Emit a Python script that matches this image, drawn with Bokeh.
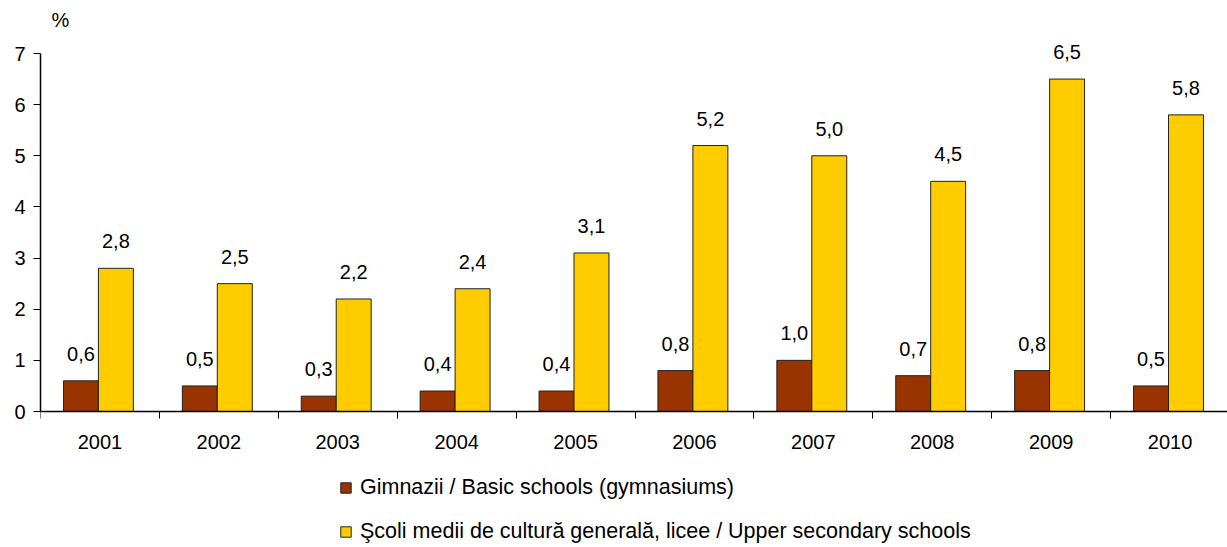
from bokeh.plotting import figure
from bokeh.models import ColumnDataSource, Range1d, FixedTicker, Legend, LegendItem, Label
from bokeh.core.properties import value
from bokeh.embed import file_html
from bokeh.resources import INLINE

years = [2001, 2002, 2003, 2004, 2005, 2006, 2007, 2008, 2009, 2010]
gimnazii = [0.6, 0.5, 0.3, 0.4, 0.4, 0.8, 1.0, 0.7, 0.8, 0.5]
licee = [2.8, 2.5, 2.2, 2.4, 3.1, 5.2, 5.0, 4.5, 6.5, 5.8]
series_names = ["Gimnazii / Basic schools (gymnasiums)",
                "Şcoli medii de cultură generală, licee / Upper secondary schools"]
y_ticks = [0, 1, 2, 3, 4, 5, 6, 7]
unit_label = "%"

FONT = "Liberation Sans"
FS = "20px"
LFS = "21.5px"
BROWN = "#993300"
YELLOW = "#FFCC00"
BW = 0.294

centers = [i + 0.487 for i in range(len(years))]
fmt = lambda v: f"{v:.1f}".replace(".", ",")

src = ColumnDataSource(dict(
    x1=[c - BW / 2 for c in centers],
    x2=[c + BW / 2 for c in centers],
    g=gimnazii, l=licee,
    gl=[fmt(v) for v in gimnazii],
    ll=[fmt(v) for v in licee],
))

# frame: left 40 .. right 1227, top 0 .. bottom 547 ; y=0 at pixel 411, y=7 at pixel 53
H = 547
PX_PER_UNIT = (411 - 53) / 7.0
y_max = 7 + 53 / PX_PER_UNIT
y_min = -(H - 411) / PX_PER_UNIT

p = figure(width=1227, height=H, output_backend="svg", toolbar_location=None,
           x_range=Range1d(0, 1187 / 118.9), y_range=Range1d(y_min, y_max),
           min_border_left=40, min_border_right=0, min_border_top=0, min_border_bottom=0)
p.title.visible = False
p.outline_line_color = None
p.xgrid.visible = False
p.ygrid.visible = False
p.background_fill_color = "white"
p.border_fill_color = "white"

r1 = p.vbar(x="x1", top="g", width=BW, bottom=0, source=src,
            fill_color=BROWN, line_color="#222222", line_width=1)
r2 = p.vbar(x="x2", top="l", width=BW, bottom=0, source=src,
            fill_color=YELLOW, line_color="#222222", line_width=1)

p.text(x="x1", y="g", text="gl", source=src, y_offset=-27,
       text_align="center", text_baseline="middle",
       text_font=value(FONT), text_font_size=FS, text_color="black")
p.text(x="x2", y="l", text="ll", source=src, y_offset=-27,
       text_align="center", text_baseline="middle",
       text_font=value(FONT), text_font_size=FS, text_color="black")

# x axis drawn at y = 0
xa = p.xaxis[0]
xa.fixed_location = 0
label_pos = [i + 0.5 for i in range(len(years))]
xa.ticker = FixedTicker(ticks=label_pos, minor_ticks=list(range(len(years) + 1)))
xa.major_label_overrides = {c: str(y) for c, y in zip(label_pos, years)}
xa.major_tick_out = 0
xa.major_tick_in = 0
xa.minor_tick_out = 7
xa.minor_tick_in = 0
xa.minor_tick_line_color = "black"
xa.axis_line_color = "black"
xa.axis_line_width = 1.5
xa.major_label_text_font = FONT
xa.major_label_text_font_size = FS
xa.major_label_text_color = "black"
xa.major_label_standoff = 16

ya = p.yaxis[0]
ya.ticker = FixedTicker(ticks=y_ticks)
ya.bounds = (0, 7)
ya.major_tick_out = 7
ya.major_tick_in = 0
ya.minor_tick_out = 0
ya.minor_tick_in = 0
ya.axis_line_color = "black"
ya.axis_line_width = 1.5
ya.major_tick_line_color = "black"
ya.major_label_text_font = FONT
ya.major_label_text_font_size = FS
ya.major_label_text_color = "black"
ya.major_label_standoff = 8

p.add_layout(Label(x=11, y=H - 19.5, x_units="screen", y_units="screen",
                   text=unit_label, text_font=FONT, text_font_size=FS,
                   text_color="black", text_baseline="middle", text_align="left"))

legend = Legend(items=[LegendItem(label=series_names[0], renderers=[r1]),
                       LegendItem(label=series_names[1], renderers=[r2])],
                location=(299, 3), orientation="vertical",
                glyph_width=13, glyph_height=13, label_standoff=8,
                spacing=19, label_text_font=FONT, label_text_font_size=LFS,
                label_text_color="black",
                border_line_color=None, background_fill_alpha=0,
                padding=0, margin=0, label_height=20)
p.add_layout(legend, "center")

open("out.html", "w").write(file_html(p, INLINE))
